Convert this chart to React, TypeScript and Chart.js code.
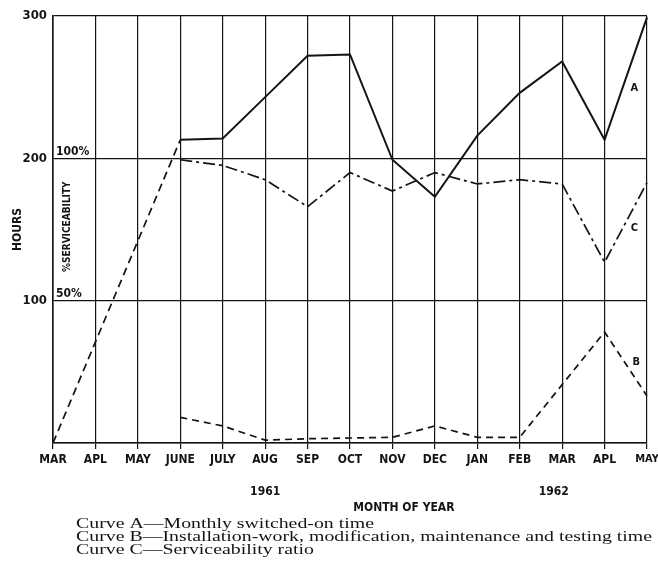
import React, { useEffect, useRef } from "react";
import { Chart, registerables } from "chart.js";

Chart.register(...registerables);

const months = ["MAR", "APL", "MAY", "JUNE", "JULY", "AUG", "SEP", "OCT", "NOV", "DEC", "JAN", "FEB", "MAR", "APL", "MAY"];

// Curve A – monthly switched-on time (hours)
const curveA = [null, null, null, 213, 214, 243, 272, 273, 199, 173, 216, 246, 268, 213, 299];
// Curve A – early build-up (dashed)
const curveARamp = [0, 71, 142, 213, null, null, null, null, null, null, null, null, null, null, null];
// Curve B – installation-work, modification, maintenance and testing time (hours)
const curveB = [null, null, null, 18, 12, 2, 3, 3.5, 4, 12, 4, 4, 41, 78, 33];
// Curve C – serviceability ratio (200 = 100 %)
const curveC = [null, null, null, 199, 195, 185, 166, 190, 177, 190, 182, 185, 182, 127, 183];

const yTickValues = [100, 200, 300];
const years = [
  { label: "1961", at: 5 },
  { label: "1962", at: 11.8 },
];
const captionLines = [
  "Curve A\u2014Monthly switched-on time",
  "Curve B\u2014Installation-work, modification, maintenance and testing time",
  "Curve C\u2014Serviceability ratio",
];

const INK = "#141414";
const SANS = "'DejaVu Sans Condensed', 'DejaVu Sans', sans-serif";

const annotations = {
  id: "annotations",
  afterDraw(chart: any) {
    const { ctx, chartArea } = chart;
    const x = chart.scales.x;
    const y = chart.scales.y;
    ctx.save();
    ctx.fillStyle = INK;

    // curve letters
    ctx.font = `bold 11px ${SANS}`;
    ctx.textAlign = "center";
    ctx.textBaseline = "middle";
    ctx.fillText("A", x.getPixelForValue(13.7), y.getPixelForValue(249));
    ctx.fillText("C", x.getPixelForValue(13.7), y.getPixelForValue(151));
    ctx.fillText("B", x.getPixelForValue(13.75), y.getPixelForValue(57));

    // percentage marks
    ctx.font = `bold 12px ${SANS}`;
    ctx.textAlign = "left";
    ctx.textBaseline = "alphabetic";
    ctx.fillText("100%", chartArea.left + 3, y.getPixelForValue(200) - 3);
    ctx.fillText("50%", chartArea.left + 3, y.getPixelForValue(100) - 4);

    // rotated labels
    ctx.save();
    ctx.translate(chartArea.left + 14, y.getPixelForValue(152));
    ctx.rotate(-Math.PI / 2);
    ctx.textAlign = "center";
    ctx.textBaseline = "middle";
    ctx.font = `bold 10px ${SANS}`;
    ctx.fillText("%SERVICEABILITY", 0, 0);
    ctx.restore();

    ctx.save();
    ctx.translate(18, y.getPixelForValue(150));
    ctx.rotate(-Math.PI / 2);
    ctx.textAlign = "center";
    ctx.textBaseline = "middle";
    ctx.font = `bold 12px ${SANS}`;
    ctx.fillText("HOURS", 0, 0);
    ctx.restore();

    // years & axis title
    ctx.textAlign = "center";
    ctx.textBaseline = "middle";
    ctx.font = `bold 12px ${SANS}`;
    years.forEach((yr) => ctx.fillText(yr.label, x.getPixelForValue(yr.at), chartArea.bottom + 49));
    ctx.fillText("MONTH OF YEAR", x.getPixelForValue(8.27), chartArea.bottom + 65);

    // caption
    ctx.font = `14px 'Liberation Serif', 'Times New Roman', serif`;
    ctx.textAlign = "left";
    const longest = Math.max(...captionLines.map((l) => ctx.measureText(l).width));
    const sx = 576 / longest;
    captionLines.forEach((line, i) => {
      ctx.save();
      ctx.translate(76, chartArea.bottom + 81 + i * 13);
      ctx.scale(sx, 1);
      ctx.fillText(line, 0, 0);
      ctx.restore();
    });

    ctx.restore();
  },
};

export default function App() {
  const ref = useRef<HTMLCanvasElement | null>(null);

  useEffect(() => {
    const canvas = ref.current;
    if (!canvas) return;
    const chart = new Chart(canvas, {
      type: "line",
      data: {
        labels: months,
        datasets: [
          { label: "A", data: curveA, borderColor: INK, borderWidth: 2, pointRadius: 0, tension: 0, spanGaps: false },
          { label: "A ramp", data: curveARamp, borderColor: INK, borderWidth: 1.7, borderDash: [8, 5], pointRadius: 0, tension: 0 },
          { label: "B", data: curveB, borderColor: INK, borderWidth: 1.7, borderDash: [7, 5], pointRadius: 0, tension: 0 },
          { label: "C", data: curveC, borderColor: INK, borderWidth: 1.7, borderDash: [12, 4, 3, 4], pointRadius: 0, tension: 0 },
        ],
      },
      options: {
        responsive: false,
        animation: false,
        devicePixelRatio: 1,
        layout: { padding: { top: 16, right: 11, left: 0, bottom: 0 } },
        plugins: { legend: { display: false }, tooltip: { enabled: false }, title: { display: false } },
        scales: {
          x: {
            type: "category",
            offset: false,
            grid: { color: INK, lineWidth: 1.2, tickLength: 6, drawTicks: true },
            border: { color: INK, width: 1.6 },
            ticks: {
              color: INK,
              font: (c: any) => ({ family: SANS, size: c.index === months.length - 1 ? 11 : 12, weight: "bold" }),
              padding: 4,
              maxRotation: 0,
              minRotation: 0,
              autoSkip: false,
            },
            afterFit: (s: any) => {
              s.height = 124;
              s.paddingLeft = 0;
              s.paddingRight = 0;
            },
          },
          y: {
            min: 0,
            max: 300,
            afterBuildTicks: (s: any) => {
              s.ticks = [0, ...yTickValues].map((v) => ({ value: v }));
            },
            grid: { color: INK, lineWidth: 1.2, drawTicks: false },
            border: { color: INK, width: 1.6 },
            ticks: {
              color: INK,
              padding: 6,
              font: { family: SANS, size: 13, weight: "bold" },
              callback: (v: any) => (v === 0 ? "" : String(v)),
            },
            afterFit: (s: any) => {
              s.width = 53;
            },
          },
        },
      },
      plugins: [annotations],
    });
    return () => chart.destroy();
  }, []);

  return (
    <div style={{ position: "absolute", left: 0, top: 0, width: 658, height: 567, background: "#fff" }}>
      <canvas ref={ref} width={658} height={567} style={{ display: "block" }} />
    </div>
  );
}
